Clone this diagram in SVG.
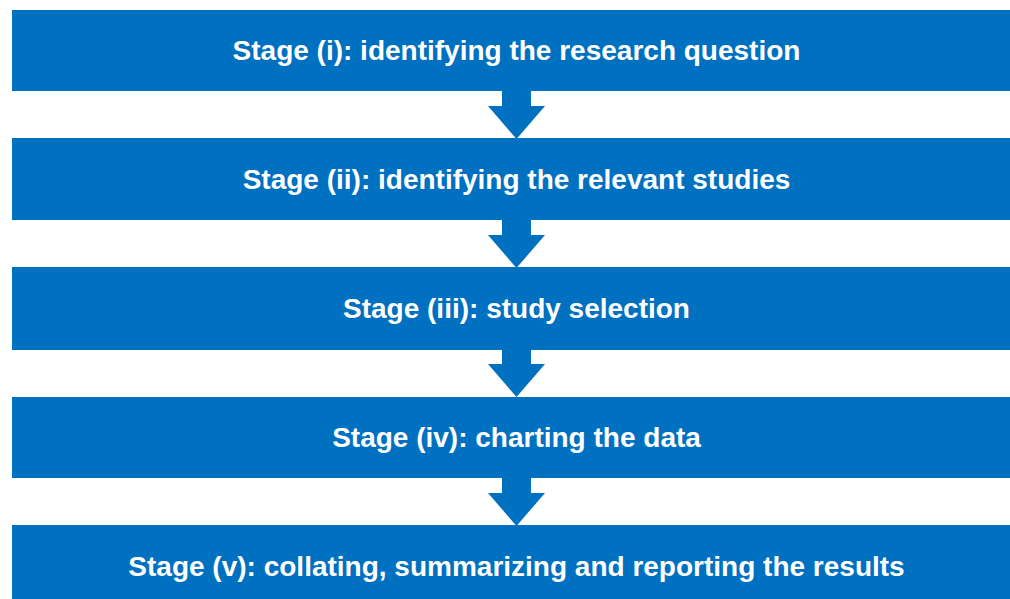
<svg xmlns="http://www.w3.org/2000/svg" width="1010" height="599" viewBox="0 0 1010 599">
<style>
.box{fill:#0070C0}
.arr{fill:#0070C0}
.lbl{font-family:"Liberation Sans",Arial,sans-serif;font-weight:bold;font-size:28px;fill:#FFFFFF;text-anchor:middle}
</style>
<rect width="1010" height="599" fill="#FFFFFF"/>
<g id="connectors">
<polygon class="arr" points="502,90 531,90 531,106 545,106 516.5,139 488,106 502,106"/>
<polygon class="arr" points="502,219 531,219 531,235 545,235 516.5,268 488,235 502,235"/>
<polygon class="arr" points="502,349 531,349 531,364 545,364 516.5,397 488,364 502,364"/>
<polygon class="arr" points="502,477 531,477 531,493 545,493 516.5,526 488,493 502,493"/>
</g>
<g id="stage1"><rect class="box" x="12" y="10" width="998" height="81"/><text class="lbl" x="516.5" y="60">Stage (i): identifying the research question</text></g>
<g id="stage2"><rect class="box" x="12" y="138" width="998" height="82"/><text class="lbl" x="516.5" y="189">Stage (ii): identifying the relevant studies</text></g>
<g id="stage3"><rect class="box" x="12" y="267" width="998" height="83"/><text class="lbl" x="516.5" y="318">Stage (iii): study selection</text></g>
<g id="stage4"><rect class="box" x="12" y="397" width="998" height="81"/><text class="lbl" x="516.5" y="447">Stage (iv): charting the data</text></g>
<g id="stage5"><rect class="box" x="12" y="525" width="998" height="74"/><text class="lbl" x="516.5" y="576">Stage (v): collating, summarizing and reporting the results</text></g>
</svg>
